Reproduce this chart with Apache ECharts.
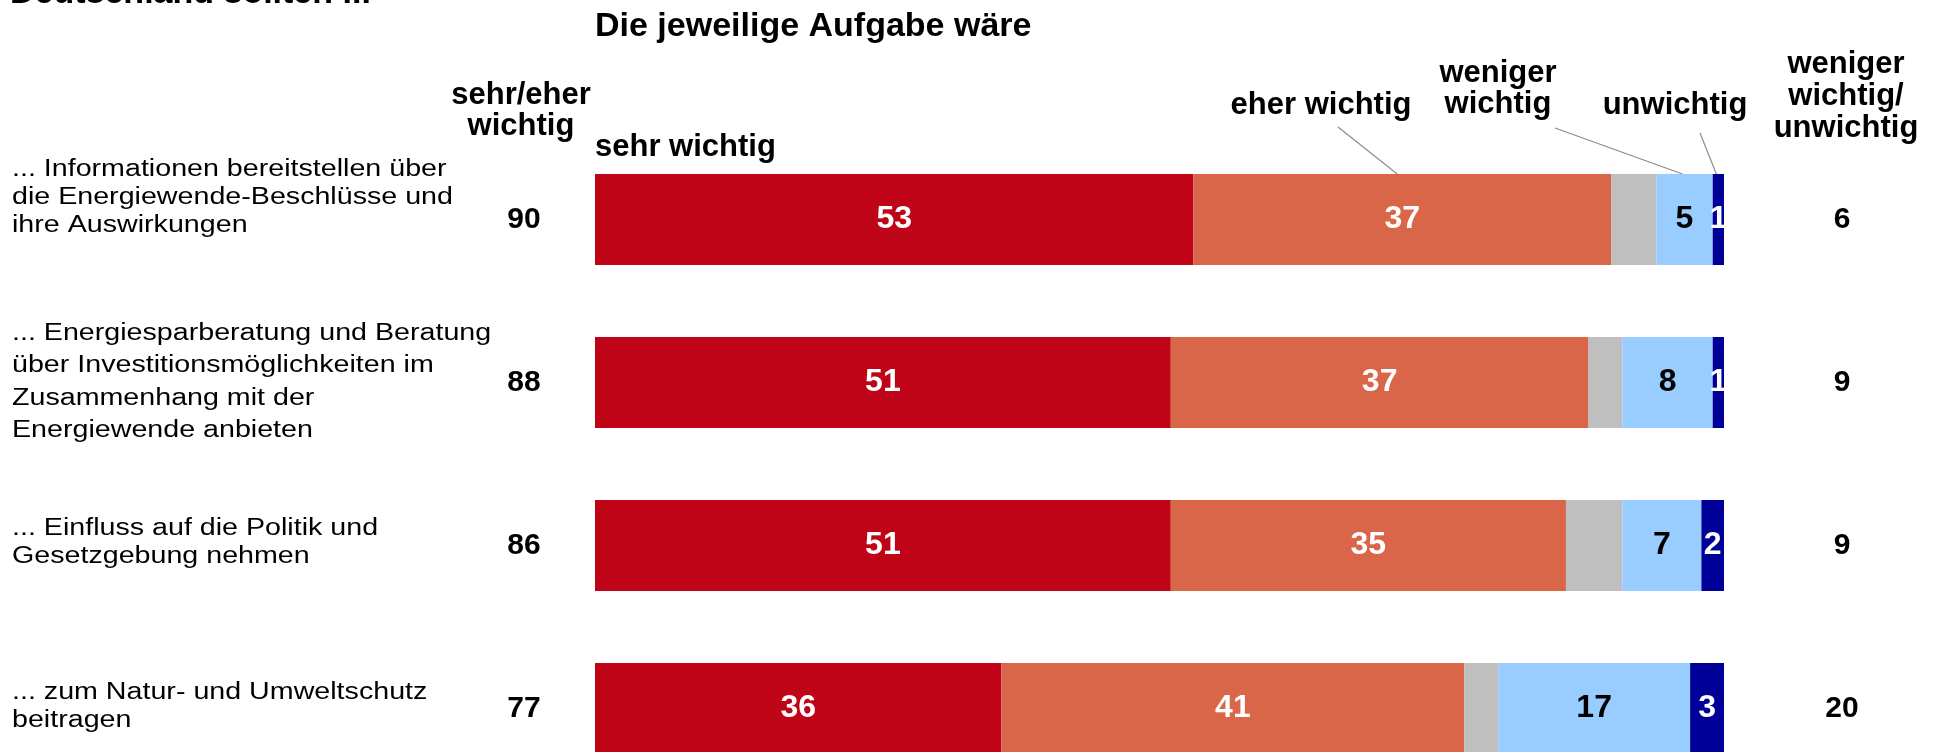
<!DOCTYPE html>
<html><head><meta charset="utf-8">
<script src="https://cdn.jsdelivr.net/npm/echarts@6/dist/echarts.min.js"></script>
<style>html,body{margin:0;padding:0;background:#fff;overflow:hidden}#c{width:1935px;height:752px}</style>
</head><body><div id="c"></div>
<script>
// ---- data ----
const categories = [
  '... Informationen bereitstellen über\ndie Energiewende-Beschlüsse und\nihre Auswirkungen',
  '... Energiesparberatung und Beratung\nüber Investitionsmöglichkeiten im\nZusammenhang mit der\nEnergiewende anbieten',
  '... Einfluss auf die Politik und\nGesetzgebung nehmen',
  '... zum Natur- und Umweltschutz\nbeitragen'
];
const seriesNames = ['sehr wichtig', 'eher wichtig', 'weiß nicht / keine Angabe', 'weniger wichtig', 'unwichtig'];
const sehrWichtig = [53, 51, 51, 36];
const eherWichtig = [37, 37, 35, 41];
const keineAngabe = [4, 3, 5, 3];
const wenigerWichtig = [5, 8, 7, 17];
const unwichtig = [1, 1, 2, 3];
const totalWichtig = [90, 88, 86, 77];
const totalUnwichtig = [6, 9, 9, 20];

const FONT = "'Liberation Sans', Arial, Helvetica, sans-serif";
const colors = ['#C00418', '#D96648', '#BFBFBF', '#99CCFF', '#000099'];
const labelColors = ['#fff', '#fff', '#fff', '#000', '#fff'];
const allSeries = [sehrWichtig, eherWichtig, keineAngabe, wenigerWichtig, unwichtig];

const chart = echarts.init(document.getElementById('c'), null, {renderer: 'canvas'});

const BAR_H = 91;

const option = {
  animation: false,
  backgroundColor: '#fff',
  grid: {left: 595, width: 1129, top: 138, height: 652, containLabel: false, outerBoundsMode: 'none'},
  xAxis: {type: 'value', min: 0, max: 100, show: false},
  yAxis: [
    {
      type: 'category', data: categories, inverse: true, position: 'left',
      axisLine: {show: false}, axisTick: {show: false}, splitLine: {show: false},
      axisLabel: {
        formatter: (v, i) => String(totalWichtig[i]),
        align: 'center', margin: 71, fontFamily: FONT, fontWeight: 'bold', fontSize: 30, color: '#000'
      }
    },
    {
      type: 'category', data: categories, inverse: true, position: 'right',
      axisLine: {show: false}, axisTick: {show: false}, splitLine: {show: false},
      axisLabel: {
        formatter: (v, i) => String(totalUnwichtig[i]),
        align: 'center', margin: 118, fontFamily: FONT, fontWeight: 'bold', fontSize: 30, color: '#000'
      }
    }
  ],
  series: allSeries.map((arr, k) => ({
    name: seriesNames[k],
    type: 'bar',
    stack: 'total',
    barWidth: BAR_H,
    data: arr,
    itemStyle: {color: colors[k]},
    label: {
      show: k !== 2,
      position: 'inside',
      color: labelColors[k],
      fontFamily: FONT, fontWeight: 'bold', fontSize: 32
    },
    emphasis: {disabled: true}
  }))
};
chart.setOption(option);

// ---- annotations ----
function px(val, idx) { return chart.convertToPixel({xAxisIndex: 0, yAxisIndex: 0}, [val, idx]); }

const rowLabelLayout = [
  {dy: -21.5, lh: 28},
  {dy: -0.5, lh: 32.5},
  {dy: -3, lh: 28.5},
  {dy: -2, lh: 28.5}
];

const g = [];
categories.forEach((txt, i) => {
  const p = px(0, i);
  g.push({
    type: 'text', x: 12, y: p[1] + rowLabelLayout[i].dy, scaleX: 1.245, scaleY: 1,
    style: {text: txt, fontFamily: FONT, fontSize: 23, fill: '#000', align: 'left', verticalAlign: 'middle', lineHeight: rowLabelLayout[i].lh}
  });
});

function header(text, x, y, align, size, lh) {
  g.push({type: 'text', x: x, y: y,
    style: {text: text, fontFamily: FONT, fontWeight: 'bold', fontSize: size, fill: '#000', align: align, verticalAlign: 'middle', lineHeight: lh || size}});
}
header('Deutschland sollten ...', 10, -6, 'left', 34);
header('Die jeweilige Aufgabe wäre', 595, 27, 'left', 34);
header('sehr/eher\nwichtig', 521, 111, 'center', 31, 31);
header('sehr wichtig', 595, 147, 'left', 31);
header('eher wichtig', 1321, 105, 'center', 31);
header('weniger\nwichtig', 1498, 89, 'center', 31, 31);
header('unwichtig', 1675, 105, 'center', 31);
header('weniger\nwichtig/\nunwichtig', 1846, 96, 'center', 31, 32);

// leader lines to the first row's segments
function segMid(k, row) {
  let s = 0;
  for (let j = 0; j < k; j++) s += allSeries[j][row];
  return s + allSeries[k][row] / 2;
}
const leaders = [
  {k: 1, from: [1338, 127]},
  {k: 3, from: [1555, 128]},
  {k: 4, from: [1700, 133]}
];
leaders.forEach(l => {
  const p = px(segMid(l.k, 0), 0);
  g.push({type: 'line', shape: {x1: l.from[0], y1: l.from[1], x2: p[0] - (l.k === 1 ? 5 : 2), y2: p[1] - BAR_H / 2},
    style: {stroke: '#8C8C8C', lineWidth: 1.2}});
});

chart.setOption({graphic: {elements: g}});
</script>
</body></html>
